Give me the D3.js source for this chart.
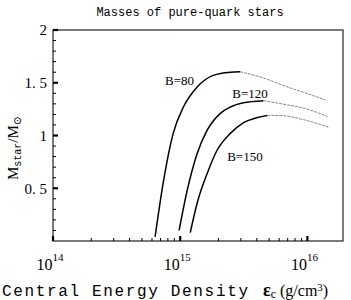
<!DOCTYPE html>
<html>
<head>
<meta charset="utf-8">
<script src="https://cdn.jsdelivr.net/npm/d3@7"></script>
<style>
  body { margin: 0; background: #fff; }
  text { fill: #000; }
</style>
</head>
<body>
<div id="chart"></div>
<script>
// central energy density (g/cm^3) and star mass (M_sun)
let e80 = [6.35e14, 7.35e14, 8.81e14, 1.06e15, 1.36e15, 1.82e15, 2.48e15, 2.96e15]
let m80 = [0.04, 0.55, 1.02, 1.27, 1.46, 1.57, 1.60, 1.604]
let e80t = [2.96e15, 4.51e15, 6.97e15, 9.31e15, 1.39e16]
let m80t = [1.604, 1.545, 1.46, 1.41, 1.336]

let e120 = [9.8e14, 1.135e15, 1.36e15, 1.63e15, 2.07e15, 2.48e15, 3.13e15, 4.51e15]
let m120 = [0.10, 0.48, 0.83, 1.05, 1.21, 1.27, 1.31, 1.33]
let e120t = [4.51e15, 6.97e15, 9.31e15, 1.44e16]
let m120t = [1.33, 1.29, 1.26, 1.18]

let e150 = [1.2e15, 1.36e15, 1.63e15, 1.95e15, 2.48e15, 3.13e15, 4.04e15, 4.84e15]
let m150 = [0.08, 0.36, 0.64, 0.86, 1.02, 1.12, 1.17, 1.19]
let e150t = [4.84e15, 6.12e15, 9.31e15, 1.46e16]
let m150t = [1.19, 1.19, 1.15, 1.08]

let seriesLabels = ['B=80', 'B=120', 'B=150']
let labelAt = [[7.6e14, 1.48], [2.57e15, 1.36], [2.34e15, 0.76]]

let yTicks = [0.5, 1, 1.5, 2]
let yTickLabels = ['0. 5', '1', '1. 5', '2']
let xTicks = [1e14, 1e15, 1e16]
let xTickExp = ['14', '15', '16']

let margin = { top: 30, left: 53, right: 8, bottom: 59 }
let width = 351 - margin.left - margin.right
let height = 300 - margin.top - margin.bottom

let svg = d3
  .select('#chart')
  .append('svg')
  .attr('width', 351)
  .attr('height', 300)
  .append('g')
  .attr('transform', `translate(${margin.left}, ${margin.top})`)

let x = d3.scaleLog().domain([1e14, Math.pow(10, 16.28)]).range([0, width])
let y = d3.scaleLinear().domain([0, 2]).range([height, 0])

let serif = '"Liberation Serif", "DejaVu Serif", serif'
let mono = '"Liberation Mono", "DejaVu Sans Mono", monospace'

// frame
svg.append('rect')
  .attr('x', 0).attr('y', 0)
  .attr('width', width).attr('height', height)
  .attr('fill', 'none')
  .attr('stroke', '#333')
  .attr('stroke-width', 1.3)

// y ticks, pointing inward
let yMinor = d3.range(1, 20).map(d => d / 10)
svg.selectAll('.ymin')
  .data(yMinor)
  .enter()
  .append('line')
  .attr('x1', 0).attr('x2', 3)
  .attr('y1', d => y(d)).attr('y2', d => y(d))
  .attr('stroke', '#000')
  .attr('stroke-width', 1)

svg.selectAll('.ymaj')
  .data(yTicks)
  .enter()
  .append('line')
  .attr('x1', 0).attr('x2', 5)
  .attr('y1', d => y(d)).attr('y2', d => y(d))
  .attr('stroke', '#000')
  .attr('stroke-width', 2.2)

svg.selectAll('.ylab')
  .data(yTicks)
  .enter()
  .append('text')
  .attr('x', -6)
  .attr('y', d => y(d))
  .attr('dy', '0.35em')
  .attr('text-anchor', 'end')
  .attr('font-family', serif)
  .attr('font-size', 15)
  .text((d, i) => yTickLabels[i])

// x ticks, log minors
let xMinor = []
;[1e14, 1e15, 1e16].forEach(dec => {
  for (let k = 2; k <= 9; k++) {
    if (dec * k <= x.domain()[1]) xMinor.push(dec * k)
  }
})
svg.selectAll('.xmin')
  .data(xMinor)
  .enter()
  .append('line')
  .attr('x1', d => x(d)).attr('x2', d => x(d))
  .attr('y1', height).attr('y2', height - 3)
  .attr('stroke', '#000')
  .attr('stroke-width', 1)

svg.selectAll('.xmaj')
  .data(xTicks)
  .enter()
  .append('line')
  .attr('x1', d => x(d)).attr('x2', d => x(d))
  .attr('y1', height).attr('y2', height - 5)
  .attr('stroke', '#000')
  .attr('stroke-width', 2.2)

let xl = svg.selectAll('.xlab')
  .data(xTicks)
  .enter()
  .append('text')
  .attr('x', d => x(d) - 3)
  .attr('y', height + 29)
  .attr('text-anchor', 'middle')
  .attr('font-family', serif)
  .attr('font-size', 16)
xl.append('tspan').text('10')
xl.append('tspan')
  .attr('dy', -9)
  .attr('font-size', 11)
  .text((d, i) => xTickExp[i])

// curves
let line = d3.line()
  .x(d => x(d[0]))
  .y(d => y(d[1]))
  .curve(d3.curveMonotoneX)

let solid = [[e80, m80], [e120, m120], [e150, m150]]
let thin = [[e80t, m80t], [e120t, m120t], [e150t, m150t]]

svg.selectAll('.solid')
  .data(solid)
  .enter()
  .append('path')
  .attr('d', d => line(d[0].map((e, i) => [e, d[1][i]])))
  .attr('fill', 'none')
  .attr('stroke', '#000')
  .attr('stroke-width', 1.5)

svg.selectAll('.thin')
  .data(thin)
  .enter()
  .append('path')
  .attr('d', d => line(d[0].map((e, i) => [e, d[1][i]])))
  .attr('fill', 'none')
  .attr('stroke', '#666')
  .attr('stroke-width', 0.8)
  .attr('stroke-dasharray', '3,1')

svg.selectAll('.blab')
  .data(seriesLabels)
  .enter()
  .append('text')
  .attr('x', (d, i) => x(labelAt[i][0]))
  .attr('y', (d, i) => y(labelAt[i][1]))
  .attr('font-family', serif)
  .attr('font-size', 13)
  .text(d => d)

// title
svg.append('text')
  .attr('x', 190 - margin.left)
  .attr('y', 16 - margin.top)
  .attr('text-anchor', 'middle')
  .attr('font-family', mono)
  .attr('font-size', 12)
  .text('Masses of pure-quark stars')

// x axis title
svg.append('text')
  .attr('x', 2 - margin.left)
  .attr('y', 296 - margin.top)
  .attr('font-family', mono)
  .attr('font-size', 16)
  .attr('textLength', 246)
  .text('Central Energy Density')

let unit = svg.append('text')
  .attr('x', 263 - margin.left)
  .attr('y', 296 - margin.top)
  .attr('font-family', serif)
  .attr('font-size', 16)
unit.append('tspan').attr('font-weight', 'bold').attr('font-size', 18).text('ε')
unit.append('tspan').attr('font-size', 12).attr('dy', 2).text('c')
unit.append('tspan').attr('dy', -2).text(' (g/cm')
unit.append('tspan').attr('font-size', 11).attr('dy', -5).text('3')
unit.append('tspan').attr('dy', 5).text(')')

// y axis title
let yt = svg.append('text')
  .attr('transform', `translate(${18 - margin.left}, ${148 - margin.top}) rotate(-90)`)
  .attr('text-anchor', 'middle')
  .attr('font-family', serif)
  .attr('font-size', 15)
yt.append('tspan').text('M')
yt.append('tspan').attr('font-size', 10).attr('font-family', mono).attr('dy', 3).text('star')
yt.append('tspan').attr('dy', -3).text('/M')
yt.append('tspan').attr('font-size', 11).attr('dy', 3).text('⊙')
</script>
</body>
</html>
